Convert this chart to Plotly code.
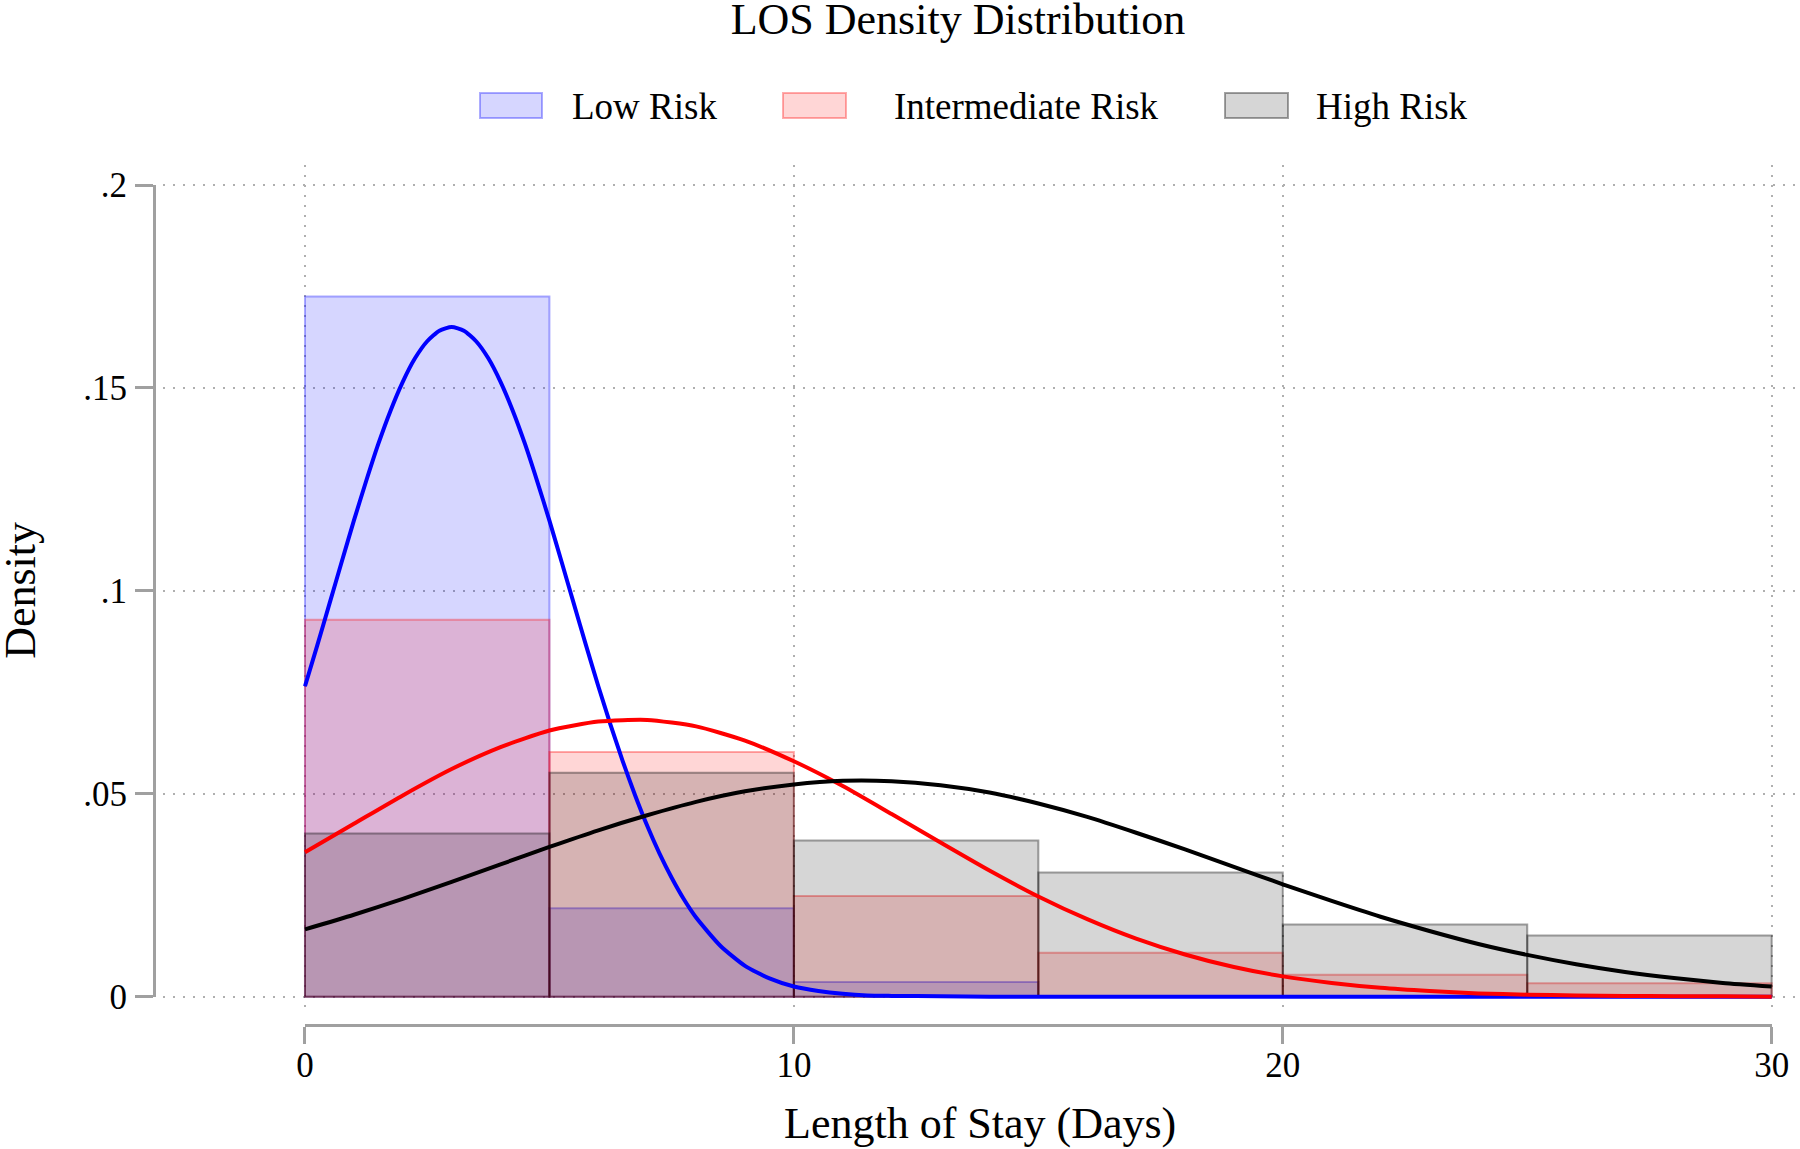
import plotly.graph_objects as go

# ---------------- data ----------------
bin_centers = [2.5, 7.5, 12.5, 17.5, 22.5, 27.5]
bin_width = 5
low_hist = [0.1725, 0.0218, 0.0036]
int_hist = [0.0929, 0.0603, 0.0248, 0.0108, 0.0054, 0.0033]
high_hist = [0.0402, 0.0552, 0.0385, 0.0306, 0.0178, 0.0151]

low_curve_x = [0, 0.25, 0.5, 0.75, 1, 1.25, 1.5, 1.75, 2, 2.25, 2.5, 2.75, 3, 3.25, 3.5,
               3.75, 4, 4.25, 4.5, 4.75, 5, 5.25, 5.5, 5.75, 6, 6.25, 6.5, 6.75, 7, 7.25,
               7.5, 7.75, 8, 8.5, 9, 9.5, 10, 10.5, 11, 11.5, 12, 13, 14, 16, 18, 20,
               22, 24, 26, 28, 30]
low_curve_y = [0.0765, 0.0865, 0.0968, 0.1071, 0.1173, 0.1270, 0.1362, 0.1444, 0.1515,
               0.1573, 0.1615, 0.1641, 0.1650, 0.1641, 0.1615, 0.1573, 0.1515, 0.1444,
               0.1362, 0.1270, 0.1173, 0.1071, 0.0968, 0.0865, 0.0765, 0.0670, 0.0580,
               0.0497, 0.0421, 0.0353, 0.0293, 0.0240, 0.0195, 0.0125, 0.0076, 0.0045,
               0.0025, 0.0014, 0.0007, 0.0003, 0.0002, 0.0001, 0.0, 0.0, 0.0, 0.0, 0.0,
               0.0, 0.0, 0.0, 0.0]

days = list(range(0, 31))
int_curve_y = [0.0356, 0.0426, 0.0496, 0.0561, 0.0615, 0.0656, 0.0678, 0.0682, 0.0666,
               0.0631, 0.0580, 0.0519, 0.0450, 0.0380, 0.0311, 0.0247, 0.0191, 0.0143,
               0.0104, 0.0073, 0.0050, 0.0034, 0.0022, 0.0014, 0.0008, 0.0005, 0.0003,
               0.0002, 0.0001, 0.0001, 0.0000]
high_curve_y = [0.0166, 0.0202, 0.0241, 0.0283, 0.0326, 0.0369, 0.0410, 0.0447, 0.0480,
                0.0506, 0.0523, 0.0532, 0.0531, 0.0521, 0.0503, 0.0476, 0.0443, 0.0404,
                0.0363, 0.0320, 0.0277, 0.0236, 0.0197, 0.0162, 0.0130, 0.0103, 0.0080,
                0.0061, 0.0046, 0.0034, 0.0025]

series_names = ["Low Risk", "Intermediate Risk", "High Risk"]
y_tickvals = [0, 0.05, 0.1, 0.15, 0.2]
y_ticktext = ["0", ".05", ".1", ".15", ".2"]
x_tickvals = [0, 10, 20, 30]
x_ticktext = ["0", "10", "20", "30"]

# ---------------- styling ----------------
FONT = "Liberation Serif"
W, H = 1800, 1149
ML, MR, MT, MB = 154, 0, 165, 124
PW, PH = W - ML - MR, H - MT - MB

fills = ["rgba(0,0,255,0.16)", "rgba(255,0,0,0.16)", "rgba(0,0,0,0.16)"]
edges = ["rgba(0,0,255,0.32)", "rgba(255,0,0,0.32)", "rgba(0,0,0,0.36)"]
curve_colors = ["rgb(0,0,255)", "rgb(255,0,0)", "rgb(0,0,0)"]
axis_gray = "rgb(160,160,160)"
grid_gray = "rgb(175,175,175)"

xdom = [9 / PW, 1.0]
xr = [-2.904, 30.579]
ydom = [10 / PH, 1.0]
yr = [-0.00451, 0.20493]


def xpaper(v):
    return xdom[0] + (v - xr[0]) / (xr[1] - xr[0]) * (xdom[1] - xdom[0])


def ypaper(v):
    return ydom[0] + (v - yr[0]) / (yr[1] - yr[0]) * (ydom[1] - ydom[0])


def px_x(p):
    return (p - ML) / PW


def px_y(p):
    return (H - MB - p) / PH


fig = go.Figure()

hists = [low_hist, int_hist, high_hist]
curves_x = [low_curve_x, days, days]
curves_y = [low_curve_y, int_curve_y, high_curve_y]

for i in range(3):
    fig.add_trace(go.Bar(
        x=bin_centers[:len(hists[i])], y=hists[i], width=bin_width,
        marker=dict(color=fills[i], line=dict(color=edges[i], width=2)),
        name=series_names[i], showlegend=False, hoverinfo="skip"))
    fig.add_trace(go.Scatter(
        x=curves_x[i], y=curves_y[i], mode="lines",
        line=dict(color=curve_colors[i], width=4, shape="spline", smoothing=0.6),
        showlegend=False, hoverinfo="skip"))

# invisible trace to carry the offset (Stata style) axes
fig.add_trace(go.Scatter(x=[0], y=[0], xaxis="x2", yaxis="y2", mode="markers",
                         marker=dict(opacity=0), showlegend=False, hoverinfo="skip"))

fig.update_layout(
    width=W, height=H,
    margin=dict(l=ML, r=MR, t=MT, b=MB, autoexpand=False),
    paper_bgcolor="white", plot_bgcolor="rgba(0,0,0,0)",
    barmode="overlay", bargap=0,
    font=dict(family=FONT, color="black", size=35),
    showlegend=False,
    title=dict(text="LOS Density Distribution", x=958 / W, xref="container",
               xanchor="center", y=1 - 19 / H, yref="container", yanchor="middle",
               font=dict(family=FONT, size=44, color="black")),
    xaxis=dict(domain=xdom, range=xr, showgrid=True, gridcolor=grid_gray,
               griddash="2px,8px", gridwidth=2, tickvals=x_tickvals,
               showticklabels=False, ticks="", zeroline=False, showline=False,
               fixedrange=True),
    yaxis=dict(domain=ydom, range=yr, showgrid=True, gridcolor=grid_gray,
               griddash="2px,8px", gridwidth=2, tickvals=y_tickvals,
               showticklabels=False, ticks="", zeroline=False, showline=False,
               fixedrange=True),
    xaxis2=dict(domain=[xpaper(0), xpaper(30)], range=[0, 30], anchor="free",
                position=0, showline=True, linecolor=axis_gray, linewidth=3,
                ticks="outside", ticklen=17, tickwidth=3, tickcolor=axis_gray,
                tickvals=x_tickvals, ticktext=x_ticktext, showgrid=False,
                zeroline=False, ticklabelstandoff=-9, fixedrange=True,
                tickfont=dict(family=FONT, size=35, color="black")),
    yaxis2=dict(domain=[ypaper(0), ypaper(0.2)], range=[0, 0.2], anchor="free",
                position=0, showline=True, linecolor=axis_gray, linewidth=3,
                ticks="outside", ticklen=18, tickwidth=3, tickcolor=axis_gray,
                tickvals=y_tickvals, ticktext=y_ticktext, showgrid=False,
                zeroline=False, ticklabelstandoff=1, fixedrange=True,
                tickfont=dict(family=FONT, size=35, color="black")),
)

# axis titles
fig.add_annotation(text="Density", xref="paper", yref="paper",
                   x=px_x(21), y=ypaper(0.1), textangle=-90, showarrow=False,
                   xanchor="center", yanchor="middle",
                   font=dict(family=FONT, size=44, color="black"))
fig.add_annotation(text="Length of Stay (Days)", xref="paper", yref="paper",
                   x=px_x(980), y=px_y(1123), showarrow=False,
                   xanchor="center", yanchor="middle",
                   font=dict(family=FONT, size=44, color="black"))

# manual legend (large boxes as in the reference)
legend_boxes = [(480, 542), (783, 846), (1225, 1288)]
legend_text_x = [570, 892, 1314]
for i in range(3):
    x0, x1 = legend_boxes[i]
    fig.add_shape(type="rect", xref="paper", yref="paper",
                  x0=px_x(x0), x1=px_x(x1), y0=px_y(118), y1=px_y(93),
                  fillcolor=fills[i], line=dict(color=edges[i], width=2))
    fig.add_annotation(text=series_names[i], xref="paper", yref="paper",
                       x=px_x(legend_text_x[i]), y=px_y(106), showarrow=False,
                       xanchor="left", yanchor="middle",
                       font=dict(family=FONT, size=37, color="black"))

fig.write_html(
    "out.html",
    config={"displayModeBar": False, "staticPlot": True},
    post_script="document.body.style.margin='0';document.body.style.overflow='hidden';",
)
